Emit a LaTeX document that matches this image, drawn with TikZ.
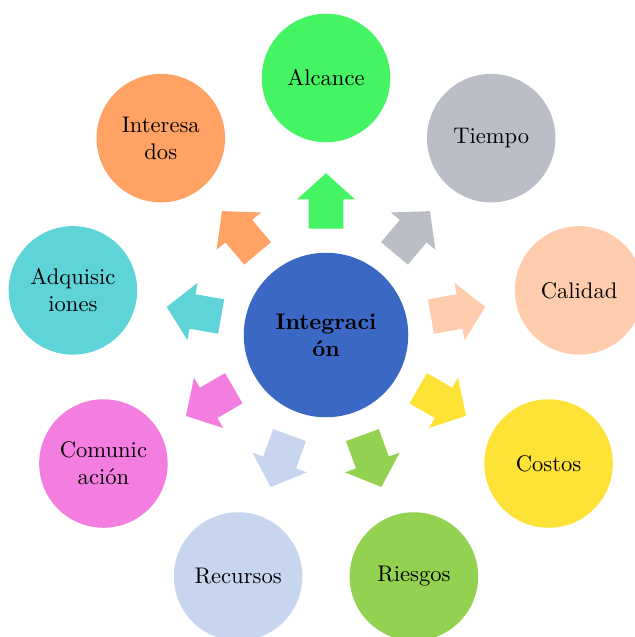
\documentclass[tikz,border=0pt]{standalone}
\usetikzlibrary{positioning,shapes.arrows,calc}
\definecolor{hubblue}{HTML}{3A68C4}
\definecolor{cAlcance}{HTML}{45F462}
\definecolor{cTiempo}{HTML}{BBBEC7}
\definecolor{cCalidad}{HTML}{FFCDAD}
\definecolor{cCostos}{HTML}{FFE236}
\definecolor{cRiesgos}{HTML}{93D150}
\definecolor{cRecursos}{HTML}{C8D5EE}
\definecolor{cComunic}{HTML}{F47EDF}
\definecolor{cAdquis}{HTML}{5FD4D8}
\definecolor{cInteres}{HTML}{FFA263}
\tikzset{
  hub/.style  = {circle, fill=hubblue, minimum size=2.56cm,
                 inner sep=0pt, align=center, font=\bfseries},
  area/.style = {circle, minimum size=2cm, inner sep=0pt,
                 align=center},
  blockarr/.style = {single arrow, inner xsep=0pt, inner ysep=0.265cm,
                 minimum height=0.86cm,
                 single arrow head extend=0.18cm,
                 single arrow tip angle=96}
}

\begin{document}
\begin{tikzpicture}
    \useasboundingbox (-5.074,-4.700) rectangle (4.794,5.214);
    \node[hub] (integ) at (0,0) {Integraci\\ón};
    % areas alrededor, cada 40 grados
    \foreach \ang/\name/\col/\txt in {
        90/alcance/cAlcance/{Alcance},
        50/tiempo/cTiempo/{Tiempo},
        10/calidad/cCalidad/{Calidad},
        -30/costos/cCostos/{Costos},
        -70/riesgos/cRiesgos/{Riesgos},
        -110/recursos/cRecursos/{Recursos},
        -150/comunic/cComunic/{Comunic\\ación},
        170/adquis/cAdquis/{Adquisic\\iones},
        130/interes/cInteres/{Interesa\\dos}} {
      \node[area, fill=\col] (\name) at (\ang:4) {\txt};
      \node[blockarr, fill=\col, rotate=\ang] (arr-\name) at (\ang:1.965) {};
    }
\end{tikzpicture}
\end{document}
